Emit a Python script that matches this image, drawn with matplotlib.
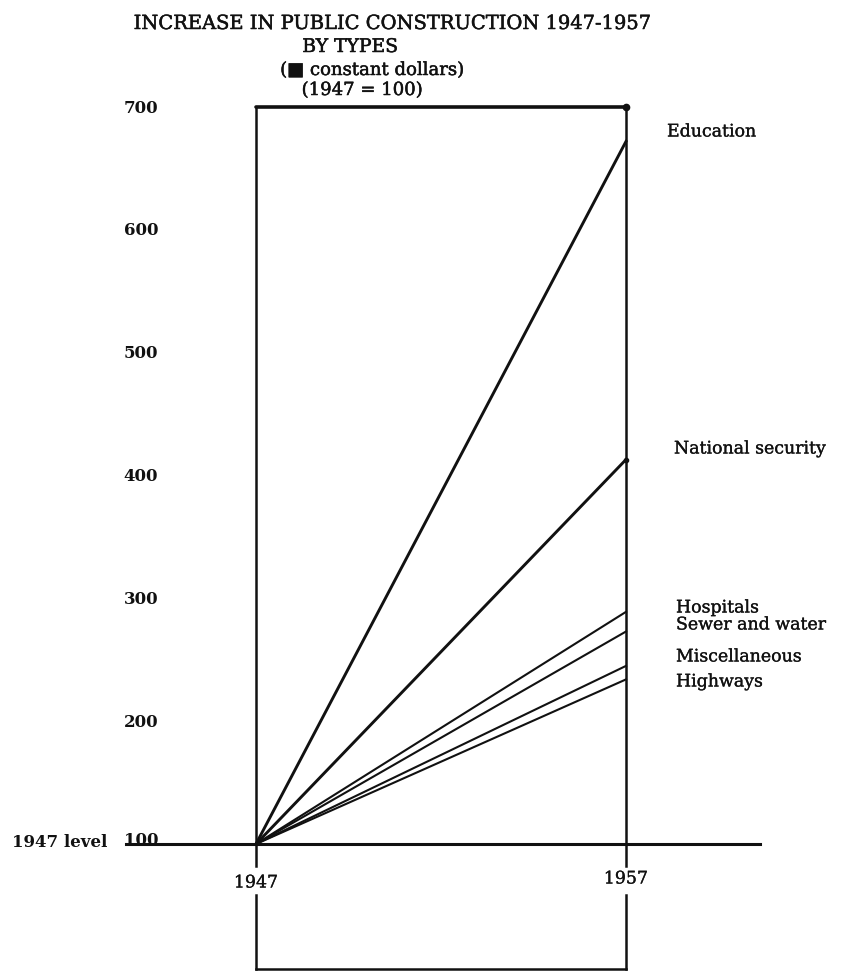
import matplotlib
matplotlib.use("Agg")
import matplotlib.pyplot as plt
import matplotlib.patheffects as pe

# ---- data ----
years = [1947, 1957]
categories = ["Education", "National security", "Hospitals",
              "Sewer and water", "Miscellaneous", "Highways"]
values_1957 = [672, 413, 289, 273, 245, 234]
start_value = 100
y_ticks = [100, 200, 300, 400, 500, 600, 700]
y_tick_labels = ["100", "200", "300", "400", "500", "600", "700"]

# ---- layout ----
W, H = 853, 978
fig = plt.figure(figsize=(W / 100, H / 100), dpi=100)
ax = fig.add_axes([0, 0, 1, 1])
px_per_year = 37.0
px_per_unit = 1.2283
x0_px, y0_px = 256, 845
ax.set_xlim(1947 - x0_px / px_per_year, 1947 + (W - x0_px) / px_per_year)
ax.set_ylim(100 - (H - y0_px) / px_per_unit, 100 + y0_px / px_per_unit)
ax.axis("off")

SERIF = ["DejaVu Serif", "DejaVu Sans"]
K = "#111111"
INK = [pe.withStroke(linewidth=0.2, foreground=K)]

def px_to_data(xp, yp):
    return (1947 + (xp - x0_px) / px_per_year, 100 + (y0_px - yp) / px_per_unit)

# frame box
top = max(y_ticks)
ax.plot([years[0], years[1]], [top, top], color=K, lw=2.6, solid_capstyle="round")
ax.plot([years[1]], [top], marker="o", ms=4.5, color=K)
ax.plot([years[0], years[0]], [start_value, top], color=K, lw=1.8)
ax.plot([years[1], years[1]], [start_value, top], color=K, lw=1.8)

# baseline (1947 level)
bx0, _ = px_to_data(126, 0)
bx1, _ = px_to_data(760, 0)
ax.plot([bx0, bx1], [start_value, start_value], color=K, lw=2.2)

# lower bracket
_, yg1 = px_to_data(0, 867)
_, yg2 = px_to_data(0, 896)
_, yb = px_to_data(0, 970)
ax.plot([years[0], years[0]], [start_value, yg1], color=K, lw=1.8)
ax.plot([years[0], years[0]], [yg2, yb], color=K, lw=1.8)
ax.plot([years[1], years[1]], [start_value, yg1], color=K, lw=1.8)
ax.plot([years[1], years[1]], [yg2, yb], color=K, lw=1.8)
ax.plot([years[0], years[1]], [yb, yb], color=K, lw=1.8)

# series lines
widths = [2.1, 2.1, 1.5, 1.5, 1.5, 1.5]
for v, lw in zip(values_1957, widths):
    ax.plot(years, [start_value, v], color=K, lw=lw)
ax.plot([years[1]], [values_1957[1]], marker="o", ms=3, color=K)

# right-hand labels
label_px_y = [133, 450, 609, 626, 658, 683]
label_px_x = [667, 674, 676, 676, 676, 676]
for name, xp, yp in zip(categories, label_px_x, label_px_y):
    lx, ly = px_to_data(xp, yp)
    ax.text(lx, ly, name, family=SERIF, fontsize=12.5, color=K,
            ha="left", va="center", path_effects=INK)

# y tick labels
tick_x, _ = px_to_data(141, 0)
for t, lab in zip(y_ticks, y_tick_labels):
    dy = 4 / px_per_unit if t == 100 else 0
    ax.text(tick_x, t + dy, lab, family=SERIF, fontsize=12, fontweight="bold",
            color=K, ha="center", va="center")
lvx, _ = px_to_data(60, 0)
ax.text(lvx, start_value + 2 / px_per_unit, "1947 level", family=SERIF, fontsize=12,
        fontweight="bold", color=K, ha="center", va="center")

# x labels
_, ylab0 = px_to_data(0, 884)
_, ylab1 = px_to_data(0, 880)
ax.text(years[0], ylab0, str(years[0]), family=SERIF, fontsize=12.5, color=K,
        ha="center", va="center", path_effects=INK)
ax.text(years[1], ylab1, str(years[1]), family=SERIF, fontsize=12.5, color=K,
        ha="center", va="center", path_effects=INK)

# title block
def ftext(xp, yp, s, **kw):
    fig.text(xp / W, 1 - yp / H, s, family=SERIF, color=K, ha="center",
             va="center", path_effects=[pe.withStroke(linewidth=0.35, foreground=K)],
             **kw)

ftext(393, 25, "INCREASE IN PUBLIC CONSTRUCTION 1947-1957", fontsize=14)
ftext(350, 48, "BY TYPES", fontsize=13.5)
ftext(372, 71, "(\u25a0 constant dollars)", fontsize=13)
ftext(362, 91, "(1947 = 100)", fontsize=13)

fig.savefig("out.png", dpi=100, facecolor="white")
